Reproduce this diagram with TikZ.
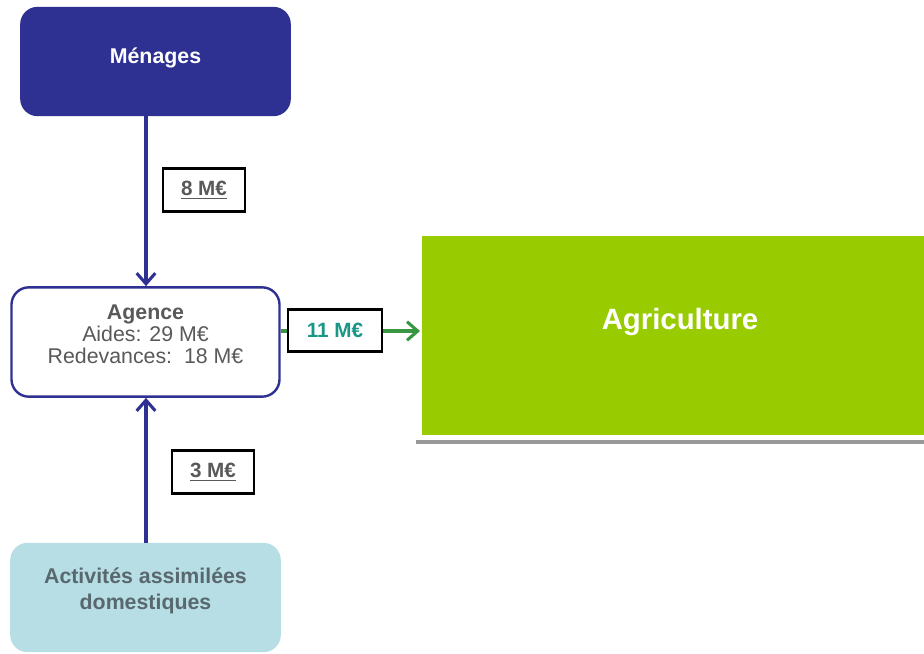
\documentclass[tikz,border=0pt]{standalone}
\usepackage{fontspec}
\setmainfont{Liberation Sans}
\usetikzlibrary{arrows.meta,positioning}
\definecolor{menblue}{RGB}{46,49,146}
\definecolor{agrigreen}{RGB}{153,204,0}
\definecolor{flowgreen}{RGB}{56,150,66}
\definecolor{actblue}{RGB}{183,222,228}
\definecolor{txtgray}{RGB}{89,89,89}
\definecolor{acttxt}{RGB}{88,104,110}
\definecolor{tealtxt}{RGB}{26,150,135}
\tikzset{
  sector/.style={rounded corners=13pt,minimum width=203pt,minimum height=82pt,inner sep=0pt},
  amount/.style={draw=black,line width=2.2pt,fill=white,minimum height=32pt,inner sep=2pt,font=\bfseries\fontsize{15.5}{18}\selectfont},
  flow/.style={line width=2.3pt,-{Straight Barb[length=8pt,width=14pt,line width=2.3pt]}}
}
\begin{document}
\begin{tikzpicture}[x=0.75pt,y=-0.75pt]
    \useasboundingbox (0,0) rectangle (924,653);
    % secteurs
    \node[sector,fill=menblue] (menages) at (155.5,61.5) {};
    \node[text=white,font=\bfseries\fontsize{16}{18}\selectfont]
      (menagesT) at (155.5,58) {Ménages};
    \node[sector,draw=menblue,line width=1.8pt,fill=white,minimum width=201pt]
      (agence) at (145.5,342) {};
    \node[text=txtgray,align=center,font=\fontsize{16}{16.5}\selectfont]
      (agenceT) at (145.5,334) {\textbf{Agence}\\Aides: 29 M€\\Redevances:\ \ 18 M€};
    \node[sector,fill=actblue] (activites) at (145.5,597.5) {};
    \node[text=acttxt,align=center,font=\bfseries\fontsize{16}{20}\selectfont]
      (activitesT) at (145.5,591) {Activités assimilées\\domestiques};
    \path[fill=agrigreen] (422,236) rectangle (924,435);
    \coordinate (agriW) at (420,331);
    \node[text=white,font=\bfseries\fontsize{22}{24}\selectfont] (agri) at (680,322) {Agriculture};
    \draw[line width=3pt,color=black!40] (416,442) -- (924,442);
    % flux
    \draw[flow,menblue] (menages.south -| 146,0) -- (agence.north -| 146,0);
    \draw[flow,menblue] (activites.north -| 146,0) -- (agence.south -| 146,0);
    \draw[flow,flowgreen] (agence.east |- agriW) -- (agriW);
    % montants
    \node[amount,minimum width=61.5pt,text=txtgray] (m8) at (204,190) {\underline{8 M€}};
    \node[amount,minimum width=61.5pt,text=txtgray] (m3) at (213,472) {\underline{3 M€}};
    \node[amount,minimum width=70.5pt,text=tealtxt] (m11) at (335,330.5) {11 M€};
\end{tikzpicture}
\end{document}
